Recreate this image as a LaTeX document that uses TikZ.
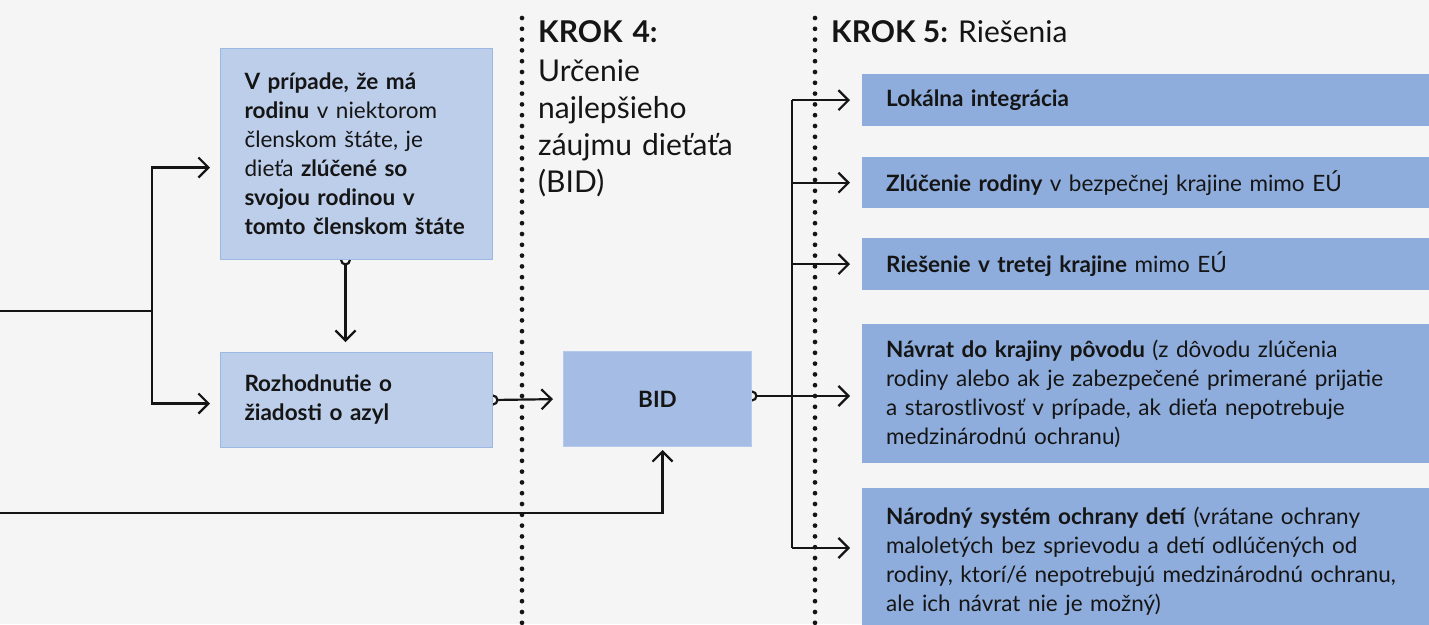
\documentclass[tikz,border=0pt]{standalone}
\usepackage{fontspec}
\setmainfont{Lato}
\usetikzlibrary{arrows.meta}
\definecolor{bg}{HTML}{F5F5F5}
\definecolor{lightbox}{HTML}{BDCEEA}
\definecolor{lightedge}{HTML}{9CB9E4}
\definecolor{bidbox}{HTML}{A5BDE5}
\definecolor{bidedge}{HTML}{B6CAEB}
\definecolor{solbox}{HTML}{8EADDC}
\definecolor{ink}{HTML}{151515}
\pgfdeclarelayer{back}
\pgfdeclarelayer{wires}
\pgfsetlayers{back,wires,main}
\begin{document}
\begin{tikzpicture}[x=1pt,y=-1pt,
  every node/.style={text=ink},
  txt/.style={font=\fontsize{22.5}{29}\selectfont},
  hdr/.style={font=\fontsize{30}{37}\selectfont, align=left, inner sep=0pt, anchor=base west},
  leftbox/.style={txt, draw=lightedge, fill=lightbox, line width=1pt, align=left, inner xsep=24pt, inner ysep=0pt, anchor=north west},
  bidstyle/.style={txt, draw=bidedge, fill=bidbox, line width=1pt, align=center, inner sep=0pt, anchor=north west},
  solstyle/.style={txt, fill=solbox, align=left, inner xsep=24pt, inner ysep=0pt, text width=532pt, anchor=north west},
  wire/.style={draw=ink, line width=2.2pt},
  conn/.style={wire, -{Straight Barb[length=10pt,width=20pt,line width=2.2pt]}},
  startconn/.style={wire, shorten <=-5.5pt, {Circle[open,length=11pt,width=11pt,line width=2.2pt]}-{Straight Barb[length=10pt,width=20pt,line width=2.2pt]}},
  dotline/.style={draw=ink, line width=4.7pt, line cap=round, dash pattern=on 0pt off 10.8pt}
]
\begin{pgfonlayer}{back}
\fill[bg] (0,0) rectangle (1429,624);
\end{pgfonlayer}
\useasboundingbox (0,0) rectangle (1429,624);
\clip (0,0) rectangle (1429,624);

% dotted separators
\coordinate (d4top) at (522,18);
\coordinate (d4bot) at (522,630);
\coordinate (d5top) at (815,18);
\coordinate (d5bot) at (815,630);
\begin{pgfonlayer}{back}
\draw[dotline] (d4top) -- (d4bot);
\draw[dotline] (d5top) -- (d5bot);
\end{pgfonlayer}

% headers
\node[hdr, text width=250pt] (k4) at (538,42) {\textbf{KROK 4:}\\[2pt]Určenie\\najlepšieho\\záujmu dieťaťa\\(BID)};
\node[hdr] (k5) at (831,42) {\textbf{KROK 5:} Riešenia};

% left boxes
\node[leftbox, text width=224pt, minimum height=211pt] (fam) at (220,48)
  {\textbf{V prípade, že má}\\\textbf{rodinu} v niektorom\\členskom štáte, je\\dieťa \textbf{zlúčené so}\\\textbf{svojou rodinou v}\\\textbf{tomto členskom štáte}};
\node[leftbox, text width=224pt, minimum height=95pt] (dec) at (220,352)
  {\textbf{Rozhodnutie o}\\\textbf{žiadosti o azyl}};

% BID
\node[bidstyle, minimum width=188pt, minimum height=95pt] (bid) at (563,351) {\textbf{BID}};

% solutions
\node[solstyle, minimum height=52pt] (s1) at (862,74) {\textbf{Lokálna integrácia}};
\node[solstyle, minimum height=51pt] (s2) at (862,157) {\textbf{Zlúčenie rodiny} v bezpečnej krajine mimo EÚ};
\node[solstyle, minimum height=52pt] (s3) at (862,238) {\textbf{Riešenie v tretej krajine} mimo EÚ};
\node[solstyle, minimum height=139pt] (s4) at (862,324)
  {\textbf{Návrat do krajiny pôvodu} (z dôvodu zlúčenia\\rodiny alebo ak je zabezpečené primerané prijatie\\a starostlivosť v prípade, ak dieťa nepotrebuje\\medzinárodnú ochranu)};
\node[solstyle, minimum height=146pt] (s5) at (862,488)
  {\textbf{Národný systém ochrany detí} (vrátane ochrany\\maloletých bez sprievodu a detí odlúčených od\\rodiny, ktorí/é nepotrebujú medzinárodnú ochranu,\\ale ich návrat nie je možný)};

% connectors
\coordinate (in1) at (0,311);
\coordinate (split) at (152,311);
\coordinate (in2) at (0,513);
\coordinate (trunk) at (792,0);
\coordinate (s5in) at (862,548);
\begin{pgfonlayer}{wires}
\draw[wire] (in1) -- (split);
\draw[conn, shorten >=10pt] (split) |- ([yshift=-13.5pt]fam.west);
\draw[conn, shorten >=10pt] (split) |- ([yshift=-3.5pt]dec.west);
\draw[conn, shorten >=3pt] (in2) -| ([xshift=5pt]bid.south);
% family -> decision
\draw[startconn, shorten >=10pt] ([xshift=-11pt]fam.south) -- ([xshift=-11pt]dec.north);
% decision -> BID
\draw[startconn, shorten >=10pt] (dec.east) -- (bid.west);
% BID -> solutions
\draw[startconn, shorten >=12pt] ([yshift=3pt]bid.east) -- ([yshift=3pt]bid.east -| s4.west);
\draw[wire] (trunk |- s1.west) -- (trunk |- s5in);
\draw[conn, shorten >=12pt] (trunk |- s1.west) -- (s1.west);
\draw[conn, shorten >=12pt] (trunk |- s2.west) -- (s2.west);
\draw[conn, shorten >=12pt] (trunk |- s3.west) -- (s3.west);
\draw[conn, shorten >=12pt] (trunk |- s5in) -- (s5in);
\end{pgfonlayer}
\end{tikzpicture}
\end{document}
